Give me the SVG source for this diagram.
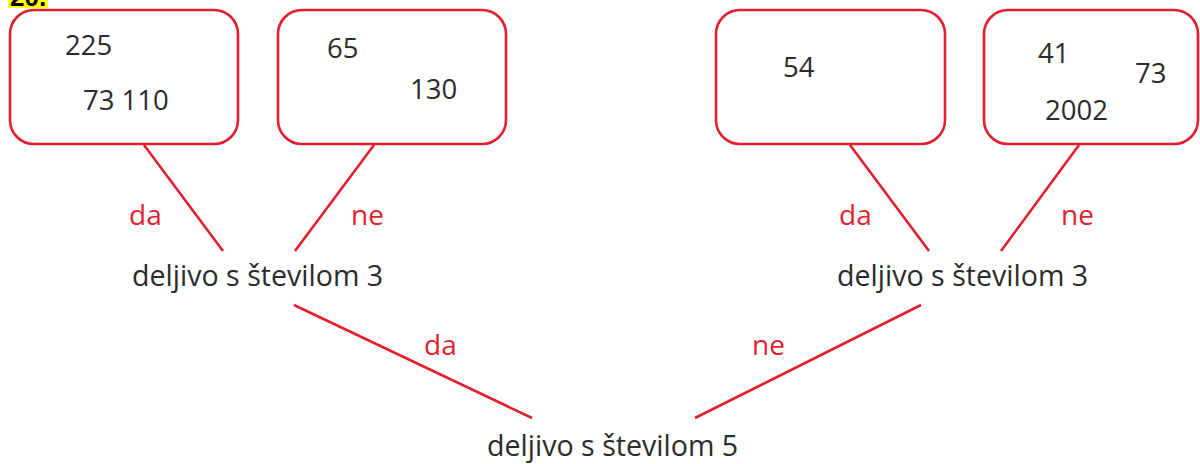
<svg xmlns="http://www.w3.org/2000/svg" width="1200" height="464" viewBox="0 0 1200 464">
<style>
.box{fill:#fff;stroke:#e31e2d;stroke-width:2.6}
.num{font-family:"Open Sans","Liberation Sans",sans-serif;font-size:27.5px;fill:#2b2b2b}
.lbl{font-family:"Open Sans","Liberation Sans",sans-serif;font-size:28px;fill:#e31e2d}
.q{font-family:"Open Sans","Liberation Sans",sans-serif;font-size:28.6px;fill:#2b2b2b}
.ln{stroke:#e31e2d;stroke-width:2.6;fill:none}
</style>
<rect width="1200" height="464" fill="#fff"/>
<g id="title">
<rect x="8" y="-20" width="40" height="28" fill="#ffff00"/>
<text x="10" y="6" font-family="Liberation Sans, sans-serif" font-weight="bold" font-size="26" fill="#000">20.</text>
</g>
<g id="connectors">
<line class="ln" x1="144" y1="145" x2="223" y2="251"/>
<line class="ln" x1="374" y1="145" x2="295" y2="251"/>
<line class="ln" x1="850" y1="145" x2="929" y2="251"/>
<line class="ln" x1="1079" y1="145" x2="1001" y2="251"/>
<line class="ln" x1="294" y1="305" x2="532" y2="418"/>
<line class="ln" x1="921" y1="305" x2="695" y2="418"/>
<text class="lbl" x="129" y="225">da</text>
<text class="lbl" x="351" y="225">ne</text>
<text class="lbl" x="839" y="225">da</text>
<text class="lbl" x="1061" y="225">ne</text>
<text class="lbl" x="424" y="355">da</text>
<text class="lbl" x="752" y="355">ne</text>
</g>
<g id="box1">
<rect class="box" x="10" y="10" width="228" height="134" rx="24"/>
<text class="num" x="65" y="55">225</text>
<text class="num" x="83" y="110">73 110</text>
</g>
<g id="box2">
<rect class="box" x="278" y="10" width="228" height="134" rx="24"/>
<text class="num" x="327" y="58">65</text>
<text class="num" x="410" y="99">130</text>
</g>
<g id="box3">
<rect class="box" x="716" y="10" width="229" height="134" rx="24"/>
<text class="num" x="783" y="77">54</text>
</g>
<g id="box4">
<rect class="box" x="984" y="10" width="214" height="134" rx="24"/>
<text class="num" x="1038" y="63">41</text>
<text class="num" x="1135" y="83">73</text>
<text class="num" x="1045" y="120">2002</text>
</g>
<g id="q3left"><text class="q" x="132" y="286">deljivo s številom 3</text></g>
<g id="q3right"><text class="q" x="837" y="286">deljivo s številom 3</text></g>
<g id="q5"><text class="q" x="487" y="456">deljivo s številom 5</text></g>
</svg>
